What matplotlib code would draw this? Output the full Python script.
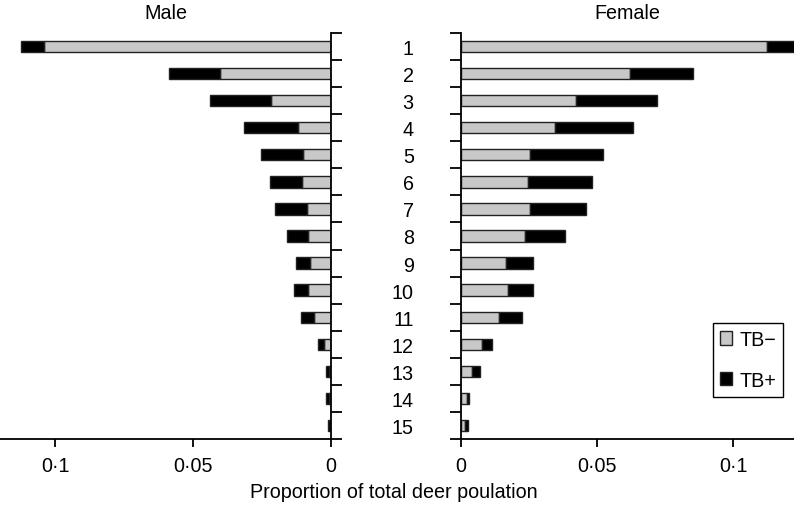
import numpy as np
import matplotlib
matplotlib.use("Agg")
import matplotlib.pyplot as plt
from matplotlib.patches import Patch
from matplotlib.ticker import FixedLocator, NullFormatter


# age classes 1..15
ages = [str(i) for i in range(1, 16)]

# proportion of total deer population
male_tb_neg = [0.1039, 0.0402, 0.0216, 0.0118, 0.0100, 0.0105, 0.0087, 0.0082,
               0.0075, 0.0082, 0.0063, 0.0026, 0.0007, 0.0007, 0.0002]
male_tb_pos = [0.0084, 0.0184, 0.0222, 0.0196, 0.0153, 0.0117, 0.0116, 0.0077,
               0.0053, 0.0053, 0.0047, 0.0022, 0.0010, 0.0010, 0.0009]
female_tb_neg = [0.1124, 0.0622, 0.0422, 0.0347, 0.0254, 0.0246, 0.0254, 0.0234,
                 0.0164, 0.0173, 0.0141, 0.0077, 0.0040, 0.0021, 0.0015]
female_tb_pos = [0.0110, 0.0231, 0.0299, 0.0285, 0.0267, 0.0237, 0.0204, 0.0148,
                 0.0099, 0.0090, 0.0084, 0.0036, 0.0030, 0.0010, 0.0010]

x_ticks = [0, 0.05, 0.1]
x_tick_labels = ["0", "0\u00b705", "0\u00b71"]

GREY = "#c8c8c8"
EDGE = "#222222"
FS = 14.2

plt.rcParams['font.family'] = ['Liberation Sans', 'DejaVu Sans']

W, H = 794, 506
fig = plt.figure(figsize=(W / 100, H / 100), dpi=100)

y0 = 1 - 440 / H
hgt = 406 / H
ax_m = fig.add_axes([0 / W, y0, 331 / W, hgt])
ax_f = fig.add_axes([461 / W, y0, 333 / W, hgt])

pos = np.arange(len(ages))
bh = 0.42


def draw(ax, neg, pos_vals):
    ax.barh(pos, neg, height=bh, color=GREY, edgecolor=EDGE, linewidth=1.0)
    ax.barh(pos, pos_vals, left=neg, height=bh, color="black",
            edgecolor=EDGE, linewidth=1.0)
    ax.set_ylim(len(ages) - 0.5, -0.5)
    ax.set_xticks(x_ticks)
    ax.set_xticklabels(x_tick_labels, fontsize=FS)
    ax.tick_params(axis='x', direction='out', length=6, width=1.3, pad=6)
    ax.yaxis.set_minor_locator(FixedLocator(np.arange(-0.5, len(ages), 1.0)))
    ax.yaxis.set_minor_formatter(NullFormatter())
    ax.tick_params(axis='y', which='minor', direction='out', length=8, width=1.3)
    ax.spines['top'].set_visible(False)
    for s in ax.spines.values():
        s.set_linewidth(1.3)


draw(ax_m, male_tb_neg, male_tb_pos)
ax_m.set_xlim(0.12, 0)
ax_m.spines['left'].set_visible(False)
ax_m.yaxis.tick_right()
ax_m.set_yticks(pos)
ax_m.tick_params(axis='y', which='major', length=0, labelright=False)
ax_m.yaxis.set_minor_locator(FixedLocator(np.arange(-0.5, len(ages), 1.0)))
ax_m.tick_params(axis='y', which='minor', right=True, left=False)
ax_m.set_title("Male", fontsize=FS, pad=11)

draw(ax_f, female_tb_neg, female_tb_pos)
ax_f.set_xlim(0, 0.1224)
ax_f.spines['right'].set_visible(False)
ax_f.set_yticks(pos)
ax_f.set_yticklabels(ages, fontsize=FS)
ax_f.tick_params(axis='y', which='major', length=0, pad=34)
ax_f.tick_params(axis='y', which='minor', left=True, right=False)
ax_f.set_title("Female", fontsize=FS, pad=11)

fig.text(394 / W, 1 - 493 / H, "Proportion of total deer poulation",
         fontsize=FS, ha='center', va='center')

handles = [Patch(facecolor=GREY, edgecolor=EDGE, label="TB\u2212"),
           Patch(facecolor="black", edgecolor=EDGE, label="TB+")]
leg = fig.legend(handles=handles, loc='upper right',
                 bbox_to_anchor=(783 / W, 1 - 324 / H), fontsize=FS,
                 handlelength=0.65, handleheight=0.65, handletextpad=0.35,
                 labelspacing=1.1, borderpad=0.35, borderaxespad=0,
                 fancybox=False, framealpha=1, edgecolor="black")
leg.get_frame().set_linewidth(1.0)

fig.savefig("out.png", dpi=100)
